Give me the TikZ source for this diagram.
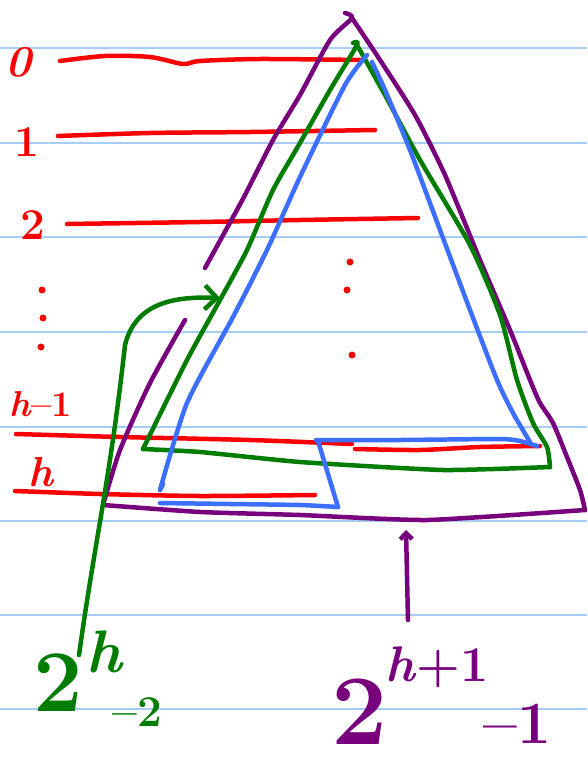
\documentclass[tikz,border=0pt]{standalone}
\usetikzlibrary{arrows.meta}
\definecolor{ruleblue}{RGB}{165,205,245}
\definecolor{penred}{RGB}{250,0,0}
\definecolor{penpurple}{RGB}{120,0,125}
\definecolor{pengreen}{RGB}{0,125,0}
\definecolor{penblue}{RGB}{60,110,255}
\begin{document}
\begin{tikzpicture}[x=1pt,y=-1pt,
  ink/.style={line width=4.5pt,line cap=round,line join=round},
  redlbl/.style={text=penred,inner sep=0pt,font=\fontsize{44}{44}\selectfont\bfseries},
  dotmark/.style={fill=penred,draw=none,circle,minimum size=7pt,inner sep=0pt}]
\useasboundingbox (0,0) rectangle (587,763);
\fill[white] (0,0) rectangle (587,763);
\foreach \y in {48,143,237,332,427,521,615,709}
  \draw[ruleblue,line width=1.5pt] (0,\y) -- (587,\y);

% level labels
\node[redlbl] (l0) at (19,62) {\itshape 0};
\node[redlbl] (l1) at (27,142) {1};
\node[redlbl] (l2) at (33,225) {2};
\node[dotmark] (d1) at (42,290) {};
\node[dotmark] (d2) at (43,318) {};
\node[dotmark] (d3) at (41,347) {};
\node[redlbl,font=\fontsize{36}{36}\selectfont\bfseries,anchor=west] (lh1) at (9,404) {\textit{h}\textendash1};
\node[redlbl,font=\fontsize{42}{42}\selectfont\bfseries] (lh) at (42,472) {\textit{h}};
\node[dotmark] (e1) at (350,262) {};
\node[dotmark] (e2) at (347,290) {};
\node[dotmark] (e3) at (352,355) {};

% red level lines
\draw[ink,penred] plot[smooth,tension=0.5] coordinates {(60,61) (105,56) (150,57) (183,64) (200,61) (260,59) (360,60)};
\draw[ink,penred] plot[smooth,tension=0.5] coordinates {(58,136) (150,133) (250,132) (375,130)};
\draw[ink,penred] plot[smooth,tension=0.5] coordinates {(67,224) (200,222) (300,220) (418,218)};
\draw[ink,penred] plot[smooth,tension=0.4] coordinates {(16,434) (120,437) (250,440) (352,444)};
\draw[ink,penred] plot[smooth,tension=0.4] coordinates {(355,449) (420,450) (480,447) (540,446)};
\draw[ink,penred] plot[smooth,tension=0.4] coordinates {(15,491) (100,494) (200,496) (315,495)};

% purple triangle
\draw[ink,penpurple] plot[smooth,tension=0.4] coordinates {(345,13) (352,18) (330,40) (300,95) (273,140) (245,195) (227,228) (205,268)};
\draw[ink,penpurple] plot[smooth,tension=0.4] coordinates {(185,320) (150,383) (120,450) (103,505)};
\draw[ink,penpurple] plot[smooth,tension=0.3] coordinates {(103,505) (200,512) (300,515) (427,520) (585,510)};
\draw[ink,penpurple] plot[smooth,tension=0.4] coordinates {(585,510) (580,490) (567,457) (553,423) (540,403) (530,380) (510,330) (480,260) (445,175) (415,115) (380,60) (352,18)};

% green triangle
\draw[ink,pengreen] plot[smooth,tension=0.4] coordinates {(353,43) (357,45) (330,90) (300,143) (273,190) (247,250) (220,300) (187,360) (143,449)};
\draw[ink,pengreen] plot[smooth,tension=0.3] coordinates {(143,449) (200,452) (300,462) (443,470) (550,467)};
\draw[ink,pengreen] plot[smooth,tension=0.4] coordinates {(550,467) (547,447) (533,423) (517,380) (500,315) (470,245) (420,160) (385,95) (357,45)};

% blue shape
\draw[ink,penblue] plot[smooth,tension=0.4] coordinates {(367,55) (345,85) (300,177) (267,250) (233,317) (187,403) (160,490)};
\draw[ink,penblue] (160,490) -- (163,484);
\draw[ink,penblue] plot[smooth,tension=0.3] coordinates {(160,503) (230,504) (300,505) (338,507)};
\draw[ink,penblue] (338,507) -- (318,441);
\draw[ink,penblue] plot[smooth,tension=0.3] coordinates {(316,440) (400,440) (500,439) (520,441) (537,446)};
\draw[ink,penblue] plot[smooth,tension=0.4] coordinates {(530,442) (513,413) (497,380) (470,310) (440,230) (410,150) (385,90) (372,62)};

% labels at the bottom
\node[text=pengreen,inner sep=0pt,font=\fontsize{88}{88}\selectfont\bfseries] (g2) at (58,683) {2};
\node[text=pengreen,inner sep=0pt,font=\fontsize{60}{60}\selectfont\bfseries\itshape] (gh) at (104,652) {h};
\node[text=pengreen,inner sep=0pt,font=\fontsize{44}{44}\selectfont\bfseries] (gm) at (137,712) {\textendash2};
\node[text=penpurple,inner sep=0pt,font=\fontsize{100}{100}\selectfont\bfseries] (p2) at (360,712) {2};
\node[text=penpurple,inner sep=0pt,font=\fontsize{50}{50}\selectfont\bfseries] (ph) at (437,667) {\textit{h}+1};
\node[text=penpurple,inner sep=0pt,font=\fontsize{60}{60}\selectfont\bfseries] (pm) at (517,724) {\textendash1};

% arrows
\coordinate (gs) at (79,655);
\coordinate (gt) at (220,298);
\draw[ink,pengreen,-{Straight Barb[length=12pt,width=24pt,line width=4.5pt]}]
  (gs) .. controls (95,540) and (110,480) .. (125,345)
       .. controls (135,305) and (170,296) .. (gt);
\coordinate (ps) at (408,620);
\coordinate (pt) at (406,530);
\draw[ink,penpurple,-{Straight Barb[length=6pt,width=12pt,line width=4.5pt]}] (ps) -- (pt);
\end{tikzpicture}
\end{document}
